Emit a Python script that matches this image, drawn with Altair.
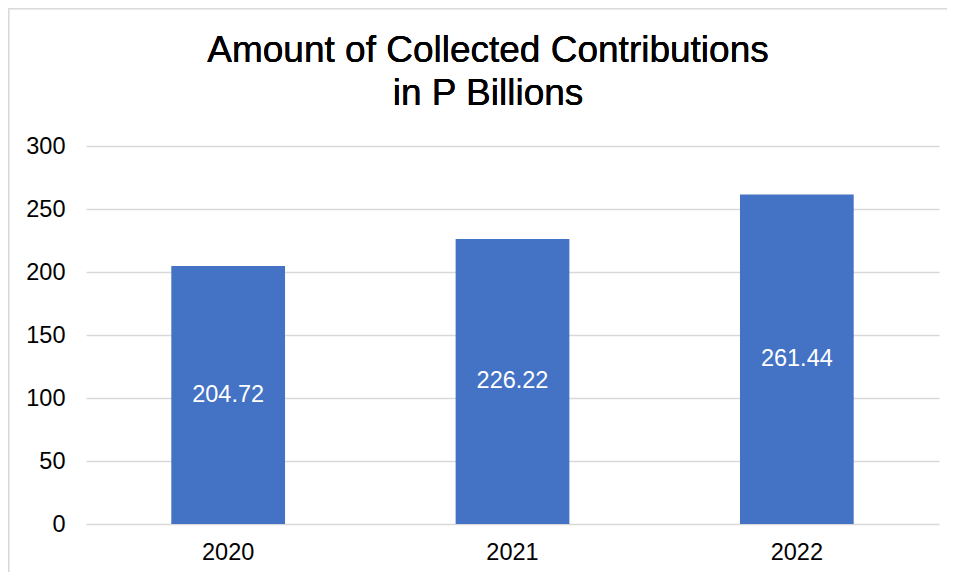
import altair as alt
import pandas as pd

title_lines = ["Amount of Collected Contributions", "in P Billions"]
years = ["2020", "2021", "2022"]
amounts = [204.72, 226.22, 261.44]
labels = ["204.72", "226.22", "261.44"]

df = pd.DataFrame({"year": years, "amount": amounts, "label": labels})

FONT = "Liberation Sans"
W, H = 853, 378
FS = 23.5

x = alt.X("year:N", title=None, sort=years,
          scale=alt.Scale(paddingInner=0.6, paddingOuter=0.3),
          axis=alt.Axis(labelAngle=0, labelFontSize=FS, labelFont=FONT, labelColor="#000000",
                        domain=False, ticks=False, labelPadding=16, grid=False))
y = alt.Y("amount:Q", title=None,
          scale=alt.Scale(domain=[0, 300], nice=False),
          axis=alt.Axis(values=[0, 50, 100, 150, 200, 250, 300], labelFontSize=FS, labelFont=FONT,
                        labelColor="#000000", domain=False, ticks=False, labelPadding=21,
                        gridColor="#d9d9d9", gridWidth=1.5))

bars = alt.Chart(df).mark_bar(color="#4472C4").encode(x=x, y=y)

text = alt.Chart(df).transform_calculate(mid="datum.amount / 2").mark_text(
    color="white", fontSize=FS, font=FONT, baseline="middle"
).encode(x=alt.X("year:N", sort=years), y=alt.Y("mid:Q"), text="label:N")

base = alt.Chart(df)
title1 = base.mark_text(fontSize=37, font=FONT, color="#000000", align="center",
                        baseline="alphabetic").encode(
    x=alt.value(402), y=alt.value(-84), text=alt.value(title_lines[0]))
title2 = base.mark_text(fontSize=37, font=FONT, color="#000000", align="center",
                        baseline="alphabetic").encode(
    x=alt.value(402), y=alt.value(-41), text=alt.value(title_lines[1]))

border_top = base.mark_rule(color="#d9d9d9", strokeWidth=1.5).encode(
    x=alt.value(-77.5), x2=alt.value(W + 8), y=alt.value(-137.5))
border_left = base.mark_rule(color="#d9d9d9", strokeWidth=1.5).encode(
    x=alt.value(-77.5), y=alt.value(-137.5), y2=alt.value(H + 48))

chart = alt.layer(border_top, border_left, bars, text, title1, title2).properties(
    width=W, height=H,
    background="white",
    autosize=alt.AutoSizeParams(type="none"),
    padding={"left": 78, "top": 138, "right": 8, "bottom": 48},
).configure_view(strokeWidth=0, stroke="transparent")

chart.save("out.html", embed_options={"renderer": "svg", "actions": False})
